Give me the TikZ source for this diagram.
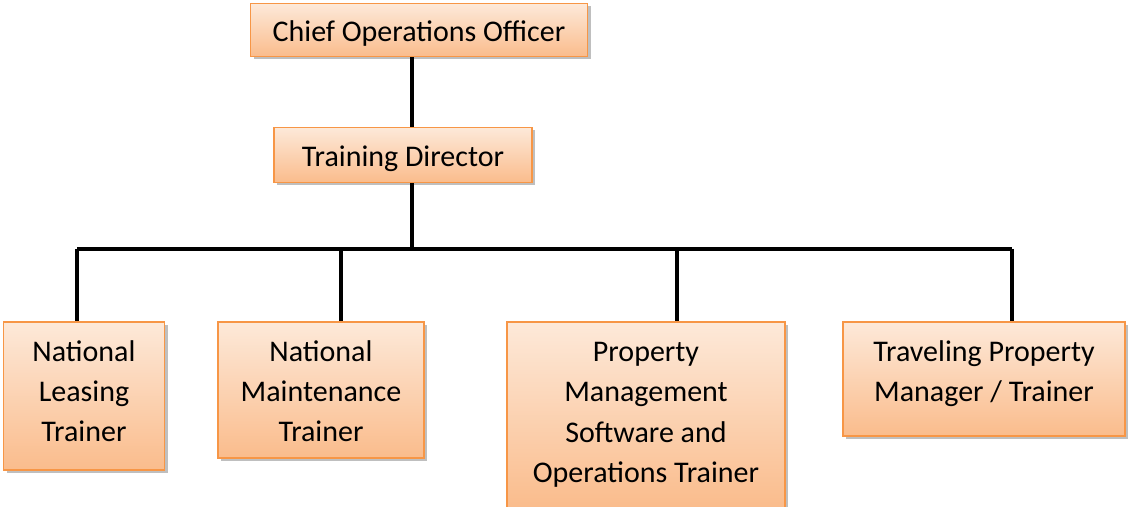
\documentclass[tikz,border=0pt]{standalone}
\usepackage{fontspec}
\setmainfont{Carlito}
\usetikzlibrary{shadows, positioning}
\definecolor{boxtop}{RGB}{253,233,217}
\definecolor{boxbot}{RGB}{250,188,140}
\definecolor{boxline}{RGB}{247,150,70}

\begin{document}
\begin{tikzpicture}[
    x=0.5pt, y=-0.5pt,
    role/.style={rectangle, draw=boxline, line width=0.6pt, top color=boxtop, bottom color=boxbot,
        drop shadow={shadow xshift=1.5pt, shadow yshift=-1.5pt, fill=black, opacity=0.25},
        align=center, font=\fontsize{15}{20}\selectfont, inner sep=0pt},
    link/.style={line width=1.6pt, black}
]
    \useasboundingbox (0,0) rectangle (1130,507);

    % Top of the chart
    \node[role, minimum width=168.5pt, minimum height=26.5pt, text height=12pt, text depth=0pt] (coo) at (419,30) {Chief Operations Officer};
    \node[role, minimum width=129pt, minimum height=27.5pt, text height=11.5pt, text depth=0pt] (td) at (403,155) {Training Director};

    % Trainers
    \node[role, minimum width=80.5pt, minimum height=74pt, text height=50pt, text depth=4pt] (nlt) at (84,396) {National\\Leasing\\Trainer};
    \node[role, minimum width=103pt, minimum height=68pt, text height=52pt, text depth=0pt] (nmt) at (321,390) {National\\Maintenance\\Trainer};
    \node[role, minimum width=139pt, minimum height=93pt, text height=70pt, text depth=3pt] (pms) at (646,415) {Property\\Management\\Software and\\Operations Trainer};
    \node[role, minimum width=141pt, minimum height=57pt, text height=30pt, text depth=7pt] (tpm) at (984,379) {Traveling Property\\Manager / Trainer};

    % Bus line
    \coordinate (bus) at (412,249);
    \coordinate (d1) at (77,249);
    \coordinate (d2) at (341,249);
    \coordinate (d3) at (677,249);
    \coordinate (d4) at (1012,249);

    \draw[link] (coo.south -| bus) -- (td.north -| bus);
    \draw[link] (td.south -| bus) -- (bus);
    \draw[link] (d1) -- (d4);
    \draw[link] (d1) -- (d1 |- nlt.north);
    \draw[link] (d2) -- (d2 |- nmt.north);
    \draw[link] (d3) -- (d3 |- pms.north);
    \draw[link] (d4) -- (d4 |- tpm.north);
\end{tikzpicture}
\end{document}
